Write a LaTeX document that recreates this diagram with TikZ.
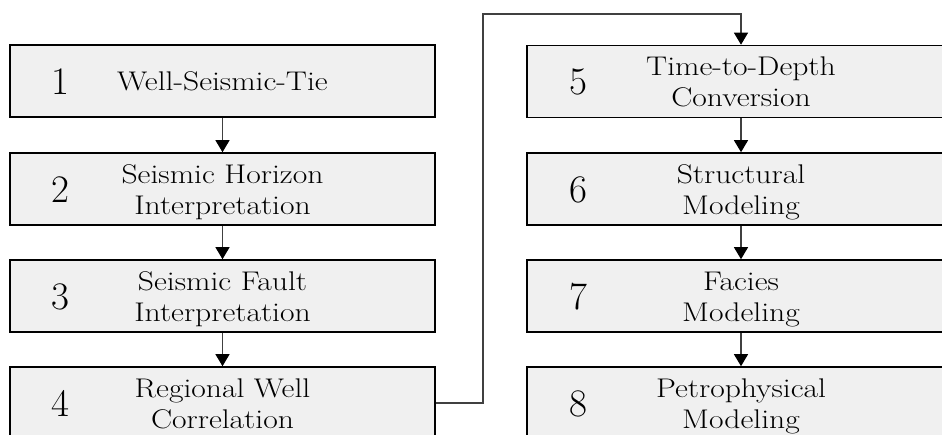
\documentclass[tikz,border=0pt]{standalone}
\usepackage{fontspec}
\usetikzlibrary{arrows.meta,calc}
\newfontfamily\labfont{Latin Modern Roman}[FakeStretch=1.17]
\definecolor{boxfill}{HTML}{F0F0F0}
\definecolor{linkgray}{HTML}{404040}
\tikzset{
  stepbox/.style={draw=black, fill=boxfill, line width=1.6pt, rectangle,
    minimum height=72pt, inner sep=0pt},
  leftbox/.style={stepbox, minimum width=425pt},
  rightbox/.style={stepbox, minimum width=428pt},
  stepnum/.style={inner sep=0pt, font=\fontsize{39}{39}\selectfont},
  steplabel/.style={inner sep=0pt, align=center, anchor=base,
    font=\labfont\fontsize{27}{31}\selectfont},
  flow/.style={draw=linkgray, line width=1.1pt,
    -{Triangle[width=14pt,length=12pt,fill=black,color=black]}},
}
\begin{document}
\begin{tikzpicture}[x=1pt,y=-1pt]
  \useasboundingbox (0,0) rectangle (942,434);
  \clip (0,0) rectangle (942,434);

  % left column
  \node[leftbox] (b1) at (222.5,81) {};
  \node[leftbox] (b2) at (222.5,189) {};
  \node[leftbox] (b3) at (222.5,296) {};
  \node[leftbox] (b4) at (222.5,403) {};
  % right column
  \node[rightbox] (b5) at (741,81.5) {};
  \node[rightbox] (b6) at (741,189) {};
  \node[rightbox] (b7) at (741,296) {};
  \node[rightbox] (b8) at (741,403) {};

  % step numbers
  \node[stepnum] (n1) at (60,82) {1};
  \node[stepnum] (n2) at (60,189.5) {2};
  \node[stepnum] (n3) at (60,296.5) {3};
  \node[stepnum] (n4) at (60,403.5) {4};
  \node[stepnum] (n5) at (578,82) {5};
  \node[stepnum] (n6) at (578,189.5) {6};
  \node[stepnum] (n7) at (578,296.5) {7};
  \node[stepnum] (n8) at (578,403.5) {8};

  % step titles (base = baseline of the last line)
  \node[steplabel] (t1) at (222.5,90) {Well-Seismic-Tie};
  \node[steplabel] (t2) at (222.5,214) {Seismic Horizon\\Interpretation};
  \node[steplabel] (t3) at (222.5,321.5) {Seismic Fault\\Interpretation};
  \node[steplabel] (t4) at (222.5,428.5) {Regional Well\\Correlation};
  \node[steplabel] (t5) at (741,106) {Time-to-Depth\\Conversion};
  \node[steplabel] (t6) at (741,214) {Structural\\Modeling};
  \node[steplabel] (t7) at (741,321.5) {Facies\\Modeling};
  \node[steplabel] (t8) at (741,428.5) {Petrophysical\\Modeling};

  % links within each column
  \draw[flow] (b1.south) -- (b2.north);
  \draw[flow] (b2.south) -- (b3.north);
  \draw[flow] (b3.south) -- (b4.north);
  \draw[flow] (b5.south) -- (b6.north);
  \draw[flow] (b6.south) -- (b7.north);
  \draw[flow] (b7.south) -- (b8.north);

  % link from step 4 over the top to step 5
  \coordinate (c1) at (483,403);
  \coordinate (c2) at (483,14);
  \draw[flow] (b4.east) -- (c1) -- (c2) -- (c2 -| b5.north) -- (b5.north);
\end{tikzpicture}
\end{document}
